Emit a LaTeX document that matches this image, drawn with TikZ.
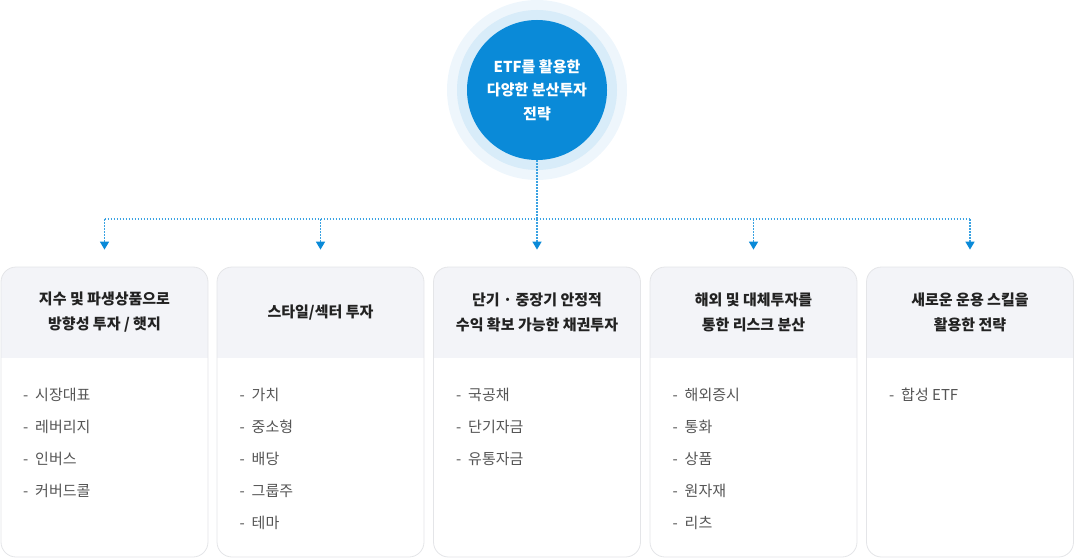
\documentclass[tikz,border=0pt]{standalone}
\usepackage{fontspec}
\setmainfont{Noto Sans CJK KR}
\usetikzlibrary{arrows.meta}
\definecolor{blueA}{HTML}{0A8AD8}
\definecolor{ringA}{HTML}{D8ECF9}
\definecolor{haloA}{HTML}{EEF6FC}
\definecolor{lineA}{HTML}{3AA2E2}
\definecolor{tipA}{HTML}{0A8AD8}
\definecolor{headbg}{HTML}{F3F4F8}
\definecolor{cardbd}{HTML}{E4E5E8}
\definecolor{titletx}{HTML}{222222}
\definecolor{itemtx}{HTML}{555555}
\tikzset{
  card/.style={draw=cardbd, line width=0.8pt, fill=white, rounded corners=15pt,
    minimum width=207pt, minimum height=290pt, inner sep=0pt,
    path picture={\fill[headbg, sharp corners] (path picture bounding box.north west) rectangle ([yshift=-91pt]path picture bounding box.north east);}},
  ctitle/.style={font=\bfseries\fontsize{15}{25}\selectfont, text=titletx, align=center},
  citem/.style={font=\fontsize{15}{17}\selectfont, text=itemtx, anchor=base west, inner sep=0pt},
  dotline/.style={draw=lineA, line width=1.6pt, dash pattern=on 1.8pt off 1.2pt},
  arr/.style={dotline, -{Triangle[width=9pt,length=8pt,color=tipA]}, shorten >=17pt},
}
\begin{document}
\begin{tikzpicture}[x=1pt,y=1pt]
\useasboundingbox (0,0) rectangle (1074,-559);
% central circle
\node[circle, fill=haloA, minimum size=180pt, inner sep=0pt] (halo) at (537,-90) {};
\node[circle, fill=ringA, minimum size=160pt, inner sep=0pt] (ring) at (537,-90) {};
\node[circle, fill=blueA, minimum size=140pt, inner sep=0pt, text=white,
  font=\bfseries\fontsize{15}{23.5}\selectfont, align=center] (ctr) at (537,-90) {ETF를 활용한\\다양한 분산투자\\전략};
% cards
\node[card] (c1) at (104.5,-412) {};
\node[card] (c2) at (320.5,-412) {};
\node[card] (c3) at (537,-412) {};
\node[card] (c4) at (753.5,-412) {};
\node[card] (c5) at (970,-412) {};
% titles
\node[ctitle] (t1) at (104.5,-312.5) {지수 및 파생상품으로\\방향성 투자 / 햇지};
\node[ctitle] (t2) at (320.5,-312.5) {스타일/섹터 투자};
\node[ctitle] (t3) at (537,-312.5) {단기 · 중장기 안정적\\수익 확보 가능한 채권투자};
\node[ctitle] (t4) at (753.5,-312.5) {해외 및 대체투자를\\통한 리스크 분산};
\node[ctitle] (t5) at (970,-312.5) {새로운 운용 스킬을\\활용한 전략};
% items
\foreach \cx/\lst in {1/{시장대표,레버리지,인버스,커버드콜},
                      2/{가치,중소형,배당,그룹주,테마},
                      3/{국공채,단기자금,유통자금},
                      4/{해외증시,통화,상품,원자재,리츠},
                      5/{합성 ETF}} {
  \pgfmathsetmacro{\lx}{2+(\cx-1)*216.5}
  \foreach \itm [count=\k] in \lst {
    \pgfmathsetmacro{\ly}{-400.5-(\k-1)*32}
    \node[citem] (d\cx-\k) at ({\lx+21},\ly) {-};
    \node[citem] (i\cx-\k) at ({\lx+33},\ly) {\itm};
  }
}
% connectors
\coordinate (j0) at (537,-219);
\coordinate (j1) at (104.5,-219);
\coordinate (j5) at (970,-219);
\coordinate (j2) at (320.5,-219);
\coordinate (j4) at (753.5,-219);
\draw[dotline] (ctr.south) -- (j0);
\draw[dotline] (j1) -- (j5);
\draw[arr] (j1) -- (c1.north);
\draw[arr] (j2) -- (c2.north);
\draw[arr] (j0) -- (c3.north);
\draw[arr] (j4) -- (c4.north);
\draw[arr] (j5) -- (c5.north);
\end{tikzpicture}
\end{document}
